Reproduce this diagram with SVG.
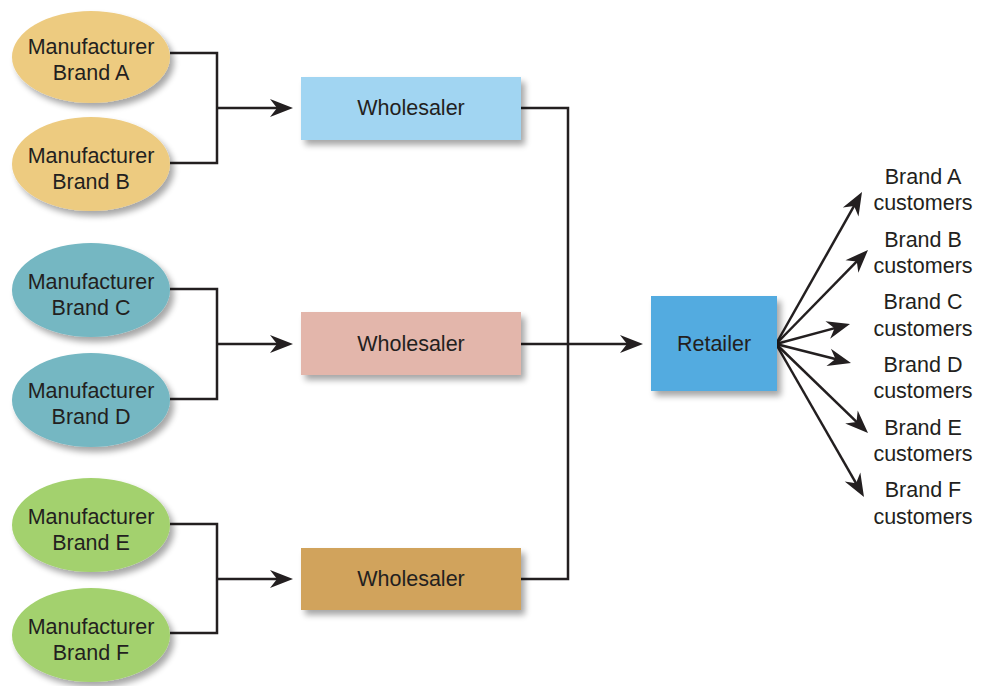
<svg xmlns="http://www.w3.org/2000/svg" width="982" height="686" viewBox="0 0 982 686">
<defs>
<filter id="sh" x="-20%" y="-20%" width="150%" height="160%">
<feGaussianBlur in="SourceAlpha" stdDeviation="3"/>
<feOffset dx="4" dy="5" result="b"/>
<feComponentTransfer><feFuncA type="linear" slope="0.35"/></feComponentTransfer>
<feMerge><feMergeNode/><feMergeNode in="SourceGraphic"/></feMerge>
</filter>
<marker id="ah" markerUnits="userSpaceOnUse" markerWidth="24" markerHeight="20" viewBox="-24 -10 24 20" refX="-8" refY="0" orient="auto">
<path d="M0,0 L-23,-9 L-16,0 L-23,9 Z" fill="#231F20"/>
</marker>
</defs>
<style>
.t{font-family:"Liberation Sans",Arial,sans-serif;font-size:21.5px;fill:#231F20;text-anchor:middle;dominant-baseline:central}
.c{fill:none;stroke:#231F20;stroke-width:2.5}
.a{marker-end:url(#ah)}
</style>
<rect width="982" height="686" fill="#fff"/>
<g id="connectors">
<path class="c" d="M170,53 H217 V163 H170"/>
<path class="c a" d="M217,108 H285"/>
<path class="c" d="M170,289 H217 V399 H170"/>
<path class="c a" d="M217,344 H285"/>
<path class="c" d="M170,524 H217 V633 H170"/>
<path class="c a" d="M217,579 H285"/>
<path class="c" d="M521,108 H568 V579 H521"/>
<path class="c a" d="M521,344 H635"/>
<path class="c a" d="M776,344 L858.06,198.96"/>
<path class="c a" d="M776,344 L862.4,255.72"/>
<path class="c a" d="M776,344 L842.28,326.09"/>
<path class="c a" d="M776,344 L843.25,361.04"/>
<path class="c a" d="M776,344 L862.25,427.44"/>
<path class="c a" d="M776,344 L860.01,490.06"/>
</g>
<g id="mA"><ellipse cx="91" cy="57" rx="79" ry="46" fill="#EDCB80" filter="url(#sh)"/><text class="t" x="91" y="47">Manufacturer</text><text class="t" x="91" y="73">Brand A</text></g>
<g id="mB"><ellipse cx="91" cy="164" rx="79" ry="47" fill="#EDCB80" filter="url(#sh)"/><text class="t" x="91" y="156">Manufacturer</text><text class="t" x="91" y="182">Brand B</text></g>
<g id="mC"><ellipse cx="91" cy="290" rx="79" ry="47" fill="#74B7C2" filter="url(#sh)"/><text class="t" x="91" y="282">Manufacturer</text><text class="t" x="91" y="308">Brand C</text></g>
<g id="mD"><ellipse cx="91" cy="400" rx="79" ry="47" fill="#74B7C2" filter="url(#sh)"/><text class="t" x="91" y="391">Manufacturer</text><text class="t" x="91" y="417">Brand D</text></g>
<g id="mE"><ellipse cx="91" cy="525" rx="79" ry="47" fill="#A3D16E" filter="url(#sh)"/><text class="t" x="91" y="517">Manufacturer</text><text class="t" x="91" y="543">Brand E</text></g>
<g id="mF"><ellipse cx="91" cy="635" rx="79" ry="47" fill="#A3D16E" filter="url(#sh)"/><text class="t" x="91" y="627">Manufacturer</text><text class="t" x="91" y="653">Brand F</text></g>
<g id="w1"><rect x="301" y="77" width="220" height="63" fill="#A1D5F2" filter="url(#sh)"/><text class="t" x="411" y="108">Wholesaler</text></g>
<g id="w2"><rect x="301" y="312" width="220" height="63" fill="#E3B6AB" filter="url(#sh)"/><text class="t" x="411" y="344">Wholesaler</text></g>
<g id="w3"><rect x="301" y="548" width="220" height="62" fill="#D1A35B" filter="url(#sh)"/><text class="t" x="411" y="579">Wholesaler</text></g>
<g id="retailer"><rect x="651" y="296" width="126" height="95" fill="#52ABE0" filter="url(#sh)"/><text class="t" x="714" y="344">Retailer</text></g>
<g id="cA"><text class="t" x="923" y="177">Brand A</text><text class="t" x="923" y="203">customers</text></g>
<g id="cB"><text class="t" x="923" y="240">Brand B</text><text class="t" x="923" y="266">customers</text></g>
<g id="cC"><text class="t" x="923" y="302">Brand C</text><text class="t" x="923" y="329">customers</text></g>
<g id="cD"><text class="t" x="923" y="365">Brand D</text><text class="t" x="923" y="391">customers</text></g>
<g id="cE"><text class="t" x="923" y="428">Brand E</text><text class="t" x="923" y="454">customers</text></g>
<g id="cF"><text class="t" x="923" y="490">Brand F</text><text class="t" x="923" y="517">customers</text></g>
</svg>
